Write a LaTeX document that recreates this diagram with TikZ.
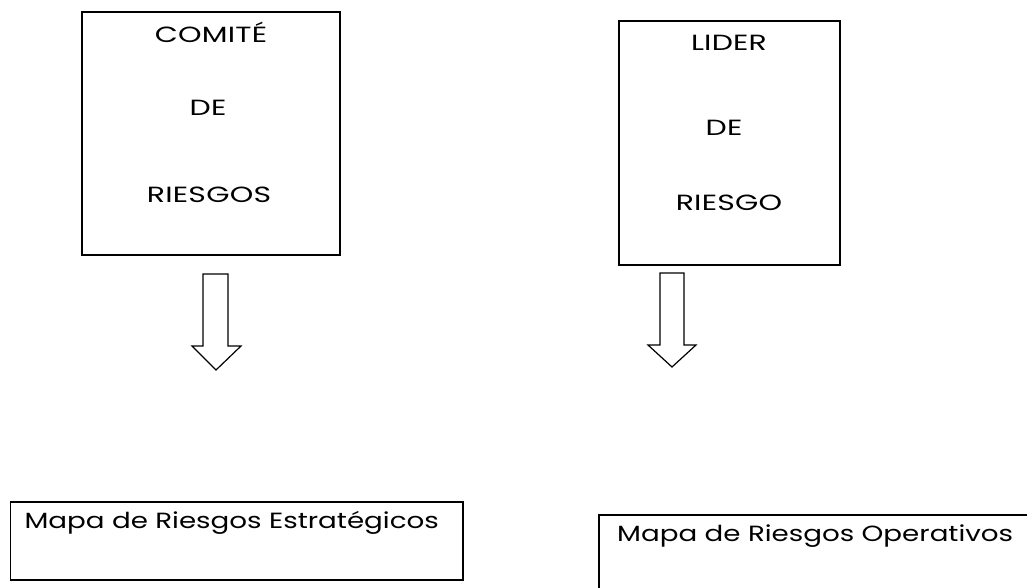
\documentclass[tikz,border=0pt]{standalone}
\usepackage{fontspec}
\setmainfont{Poppins}
\newfontfamily\capsfont[FakeStretch=1.36,LetterSpace=1]{Poppins}
\newfontfamily\lowfont[FakeStretch=1.26]{Poppins}
\begin{document}
\begin{tikzpicture}[x=1pt,y=-1pt,
  box/.style={draw=black,line width=1.6pt},
  lbl/.style={font=\fontsize{22}{26}\capsfont,inner sep=0pt,anchor=base},
  mlbl/.style={font=\fontsize{22}{26}\lowfont,inner sep=0pt},
  blockarrow/.style={draw=black,line width=1.2pt,fill=white,line join=miter}]
\useasboundingbox[fill=white] (0,0) rectangle (1027,587);
% top boxes
\draw[box] (82,12) rectangle (340,255);
\node[lbl] (c1a) at (211,42) {COMITÉ};
\node[lbl] (c1b) at (208,115) {DE};
\node[lbl] (c1c) at (209,202) {RIESGOS};
\draw[box] (619,21) rectangle (840,265);
\node[lbl] (c2a) at (729,50) {LIDER};
\node[lbl] (c2b) at (724,135) {DE};
\node[lbl] (c2c) at (729,210) {RIESGO};
% block arrows
\draw[blockarrow] (203,274) -- (228,274) -- (228,346) -- (241,346) -- (216,370)
  -- (192,346) -- (203,346) -- cycle;
\draw[blockarrow] (660,273) -- (684,273) -- (684,345) -- (696,345) -- (672,367)
  -- (648,345) -- (660,345) -- cycle;
% bottom boxes
\node[mlbl,anchor=base east] (m1) at (439,528) {Mapa de Riesgos Estratégicos};
\draw[box] ([xshift=-14pt]m1.west |- 0,502) rectangle (463,580);
\node[mlbl,anchor=base west] (m2) at (617,541) {Mapa de Riesgos Operativos};
\draw[box] (599,515) rectangle (1050,610);
\end{tikzpicture}
\end{document}
